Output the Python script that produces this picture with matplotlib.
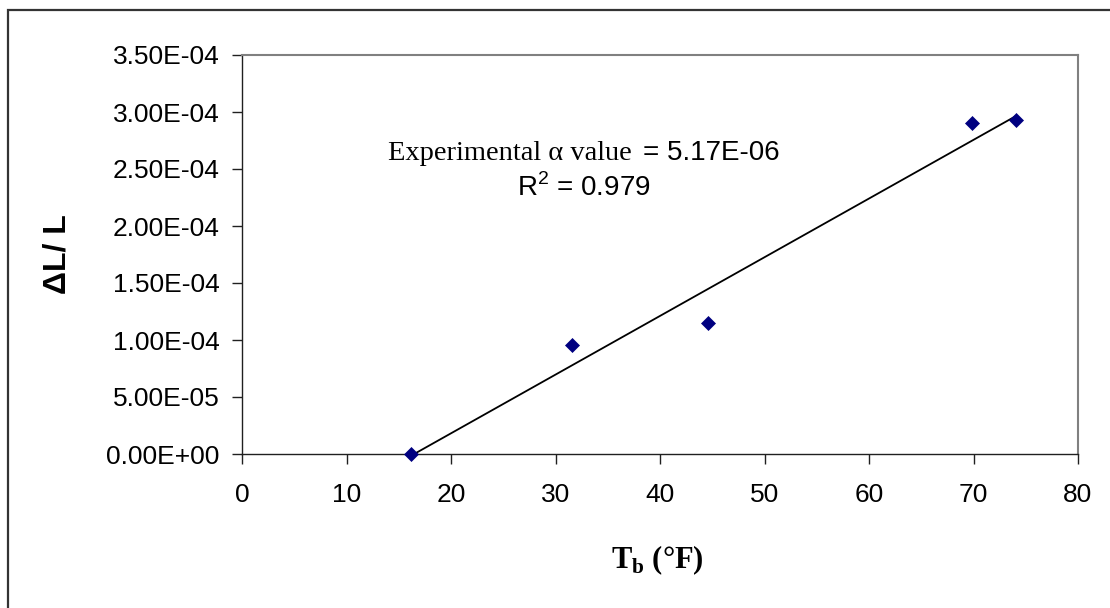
import numpy as np
import matplotlib
matplotlib.use('Agg')
import matplotlib.pyplot as plt
from matplotlib.patches import Rectangle
from matplotlib.ticker import FuncFormatter, MultipleLocator

# data
temp_f = [16.2, 31.6, 44.6, 69.9, 74.1]
strain = [0.0, 9.55e-05, 1.145e-04, 2.90e-04, 2.93e-04]
x_ticks = [0, 10, 20, 30, 40, 50, 60, 70, 80]
alpha_txt = '5.17E-06'
r2_txt = '0.979'

plt.rcParams['mathtext.fontset'] = 'custom'
plt.rcParams['mathtext.rm'] = 'Liberation Sans'
plt.rcParams['mathtext.bf'] = 'Liberation Serif:bold'

W, H = 1110, 608
fig = plt.figure(figsize=(W / 100, H / 100), dpi=100)
ax = fig.add_axes([242 / W, 1 - 454 / H, (1078 - 242) / W, (454 - 55) / H])

# trendline (least squares) from min x to max x
k, b = np.polyfit(temp_f, strain, 1)
xs = np.array([min(temp_f), max(temp_f)])
ax.plot(xs, k * xs + b, color='black', lw=1.3, zorder=2)
ax.plot(temp_f, strain, linestyle='none', marker='D', ms=7.3,
        color='#000080', mec='#000080', mew=0.5, zorder=3, clip_on=False)

ax.set_xlim(0, 80)
ax.set_ylim(0, 3.5e-4)
ax.set_xticks(x_ticks)
ax.yaxis.set_major_locator(MultipleLocator(5e-5))
ax.yaxis.set_major_formatter(FuncFormatter(lambda v, p: '%.2E' % v))

for s in ['left', 'bottom']:
    ax.spines[s].set_color('#202020')
    ax.spines[s].set_linewidth(1.0)
for s in ['top', 'right']:
    ax.spines[s].set_color('#808080')
    ax.spines[s].set_linewidth(1.5)

ax.tick_params(axis='both', direction='out', length=7, width=1.0,
               color='#202020', labelsize=19)
ax.tick_params(axis='y', pad=9)
ax.tick_params(axis='x', pad=14)
for lab in ax.get_xticklabels() + ax.get_yticklabels():
    lab.set_fontfamily('Liberation Sans')

fig.text(57 / W, 1 - 254 / H, 'ΔL/ L', rotation=90, ha='center', va='center',
         fontsize=23, fontweight='bold', fontfamily='Liberation Sans')
fig.text(657 / W, 1 - 560 / H, r'T$_{\mathbf{b}}$ (°F)', ha='center', va='center',
         fontsize=22, fontweight='bold', fontfamily='Liberation Serif')

# trendline annotation
fig.text(632 / W, 1 - 160 / H, 'Experimental α value', ha='right', va='baseline',
         fontsize=20.5, fontfamily='Liberation Serif')
fig.text(643 / W, 1 - 160 / H, '= ' + alpha_txt, ha='left', va='baseline',
         fontsize=20, fontfamily='Liberation Sans')
fig.text(584 / W, 1 - 196 / H, r'R$^2$ = ' + r2_txt, ha='center', va='baseline',
         fontsize=20, fontfamily='Liberation Sans')

# outer chart border (only left/top visible in the image)
fig.patches.append(Rectangle((8 / W, -0.1), 1.2, 1.1 - 10 / H,
                             transform=fig.transFigure, fill=False,
                             edgecolor='#333333', lw=1.6, clip_on=False))

fig.savefig('out.png', dpi=100)
